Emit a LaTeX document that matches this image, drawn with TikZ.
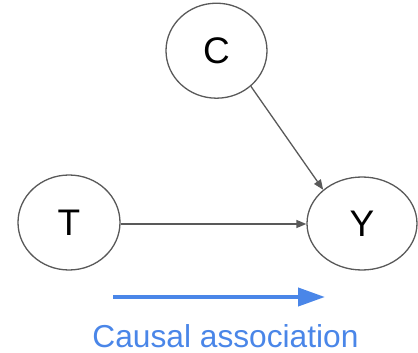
\documentclass[tikz,border=0pt]{standalone}
\usepackage{fontspec}
\setmainfont{Liberation Sans}
\usetikzlibrary{shapes.geometric,arrows.meta}
\definecolor{edgegray}{HTML}{595959}
\definecolor{gblue}{HTML}{4A86E8}
\tikzset{
  var/.style={ellipse, draw=edgegray, line width=1.3pt, inner sep=0pt,
    font=\fontsize{37}{37}\selectfont},
  edge/.style={draw=edgegray, line width=1.3pt, -{Triangle[length=10pt,width=8pt]}},
  legend/.style={draw=gblue, line width=4pt, -{Triangle[length=27pt,width=18pt]}},
}
\begin{document}
\begin{tikzpicture}[x=1pt,y=-1pt]
\useasboundingbox (0,0) rectangle (418,353);
\node[var, minimum width=101pt, minimum height=95pt] (C) at (216.5,50.7) {C};
\node[var, minimum width=102pt, minimum height=95pt] (T) at (69,222.5) {T};
\node[var, minimum width=110pt, minimum height=93pt] (Y) at (362,223.5) {Y};
\draw[edge] (C.-46) -- (Y.139);
\draw[edge] (T.east |- 0,224) -- (Y.west |- 0,224);
\coordinate (ls) at (113,297);
\coordinate (le) at (325,297);
\draw[legend] (ls) -- (le);
\node[text=gblue, font=\fontsize{31.7}{31.7}\selectfont, anchor=base] (lab) at (225.5,347) {Causal association};
\end{tikzpicture}
\end{document}
